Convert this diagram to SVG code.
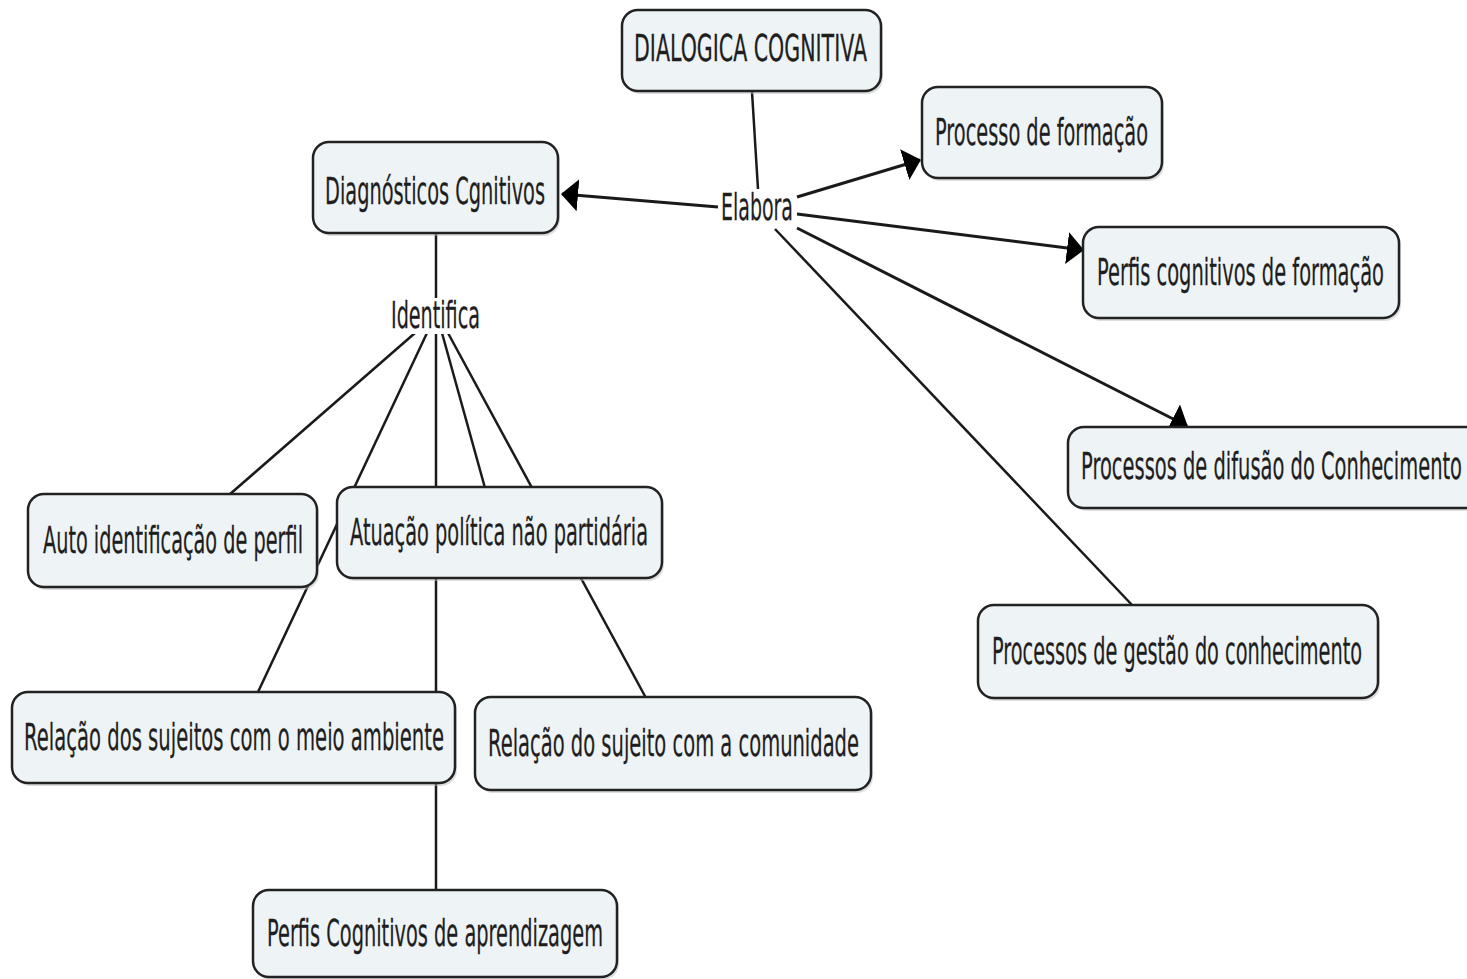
<svg xmlns="http://www.w3.org/2000/svg" width="1467" height="979" viewBox="0 0 1467 979">
  <style>
    .box { fill: #eef3f6; stroke: #222; stroke-width: 2.5; }
    .shadow { fill: #b8bcc0; opacity: 0.5; }
    .lbl { font-family: "DejaVu Sans", "Noto Sans", sans-serif; font-size: 38px; fill: #1e1e1e; stroke: #1e1e1e; stroke-width: 0.3; }
    .link { stroke: #1a1a1a; stroke-width: 2.5; fill: none; }
    .linkhead { stroke: #1a1a1a; stroke-width: 3; fill: none; marker-end: url(#arrow); }
  </style>
  <defs>
    <marker id="arrow" markerUnits="userSpaceOnUse" viewBox="0 0 17 32" refX="16" refY="16" markerWidth="17" markerHeight="32" orient="auto">
      <path d="M0,0 L17,16 L0,32 Z" fill="#000"/>
    </marker>
  </defs>
  <rect width="1467" height="979" fill="#fff"/>

  <!-- connectors -->
  <g id="connectors">
    <line class="link" x1="752" y1="92" x2="758" y2="189"/>
    <line class="linkhead" x1="718" y1="207" x2="562" y2="194"/>
    <line class="linkhead" x1="797" y1="197" x2="920" y2="160"/>
    <line class="linkhead" x1="797" y1="214" x2="1083" y2="250"/>
    <line class="linkhead" x1="797" y1="228" x2="1187" y2="426"/>
    <line class="link" x1="775" y1="229" x2="1133" y2="606"/>
    <line class="link" x1="436" y1="233" x2="436" y2="298"/>
    <line class="link" x1="415" y1="333" x2="229" y2="495"/>
    <line class="link" x1="427" y1="333" x2="258" y2="692"/>
    <line class="link" x1="436" y1="333" x2="436" y2="891"/>
    <line class="link" x1="442" y1="333" x2="485" y2="488"/>
    <line class="link" x1="448" y1="333" x2="646" y2="698"/>
  </g>

  <!-- linking phrases -->
  <g id="label-elabora">
    <rect x="719" y="190" width="76" height="38" fill="#fff"/>
    <text class="lbl" transform="translate(721,220) scale(0.5,1)" textLength="144" lengthAdjust="spacingAndGlyphs">Elabora</text>
  </g>
  <g id="label-identifica">
    <rect x="389" y="298" width="94" height="36" fill="#fff"/>
    <text class="lbl" transform="translate(391,328) scale(0.5,1)" textLength="178" lengthAdjust="spacingAndGlyphs">Identifica</text>
  </g>

  <!-- concepts -->
  <g id="node-dialogica">
    <rect class="shadow" x="624" y="13" width="259" height="81" rx="16"/>
    <rect class="box" x="622" y="10" width="259" height="81" rx="16"/>
    <text class="lbl" transform="translate(634,61) scale(0.5,1)" textLength="466" lengthAdjust="spacingAndGlyphs">DIALOGICA COGNITIVA</text>
  </g>
  <g id="node-processo-formacao">
    <rect class="shadow" x="924" y="90" width="240" height="91" rx="16"/>
    <rect class="box" x="922" y="87" width="240" height="91" rx="16"/>
    <text class="lbl" transform="translate(935,145) scale(0.5,1)" textLength="426" lengthAdjust="spacingAndGlyphs">Processo de formação</text>
  </g>
  <g id="node-diagnosticos">
    <rect class="shadow" x="315" y="145" width="245" height="91" rx="16"/>
    <rect class="box" x="313" y="142" width="245" height="91" rx="16"/>
    <text class="lbl" transform="translate(325,204) scale(0.5,1)" textLength="440" lengthAdjust="spacingAndGlyphs">Diagnósticos Cgnitivos</text>
  </g>
  <g id="node-perfis-formacao">
    <rect class="shadow" x="1085" y="230" width="316" height="91" rx="16"/>
    <rect class="box" x="1083" y="227" width="316" height="91" rx="16"/>
    <text class="lbl" transform="translate(1097,285) scale(0.5,1)" textLength="574" lengthAdjust="spacingAndGlyphs">Perfis cognitivos de formação</text>
  </g>
  <g id="node-difusao">
    <rect class="shadow" x="1070" y="430" width="420" height="81" rx="16"/>
    <rect class="box" x="1068" y="427" width="420" height="81" rx="16"/>
    <text class="lbl" transform="translate(1081,479) scale(0.5,1)" textLength="762" lengthAdjust="spacingAndGlyphs">Processos de difusão do Conhecimento</text>
  </g>
  <g id="node-gestao">
    <rect class="shadow" x="980" y="608" width="400" height="93" rx="16"/>
    <rect class="box" x="978" y="605" width="400" height="93" rx="16"/>
    <text class="lbl" transform="translate(992,664) scale(0.5,1)" textLength="740" lengthAdjust="spacingAndGlyphs">Processos de gestão do conhecimento</text>
  </g>
  <g id="node-auto-identificacao">
    <rect class="shadow" x="30" y="497" width="289" height="93" rx="16"/>
    <rect class="box" x="28" y="494" width="289" height="93" rx="16"/>
    <text class="lbl" transform="translate(43,553) scale(0.5,1)" textLength="520" lengthAdjust="spacingAndGlyphs">Auto identificação de perfil</text>
  </g>
  <g id="node-atuacao">
    <rect class="shadow" x="339" y="490" width="325" height="91" rx="16"/>
    <rect class="box" x="337" y="487" width="325" height="91" rx="16"/>
    <text class="lbl" transform="translate(350,545) scale(0.5,1)" textLength="596" lengthAdjust="spacingAndGlyphs">Atuação política não partidária</text>
  </g>
  <g id="node-meio-ambiente">
    <rect class="shadow" x="14" y="695" width="443" height="91" rx="16"/>
    <rect class="box" x="12" y="692" width="443" height="91" rx="16"/>
    <text class="lbl" transform="translate(24,750) scale(0.5,1)" textLength="840" lengthAdjust="spacingAndGlyphs">Relação dos sujeitos com o meio ambiente</text>
  </g>
  <g id="node-comunidade">
    <rect class="shadow" x="477" y="700" width="396" height="93" rx="16"/>
    <rect class="box" x="475" y="697" width="396" height="93" rx="16"/>
    <text class="lbl" transform="translate(488,756) scale(0.5,1)" textLength="742" lengthAdjust="spacingAndGlyphs">Relação do sujeito com a comunidade</text>
  </g>
  <g id="node-aprendizagem">
    <rect class="shadow" x="255" y="893" width="364" height="87" rx="16"/>
    <rect class="box" x="253" y="890" width="364" height="87" rx="16"/>
    <text class="lbl" transform="translate(267,946) scale(0.5,1)" textLength="672" lengthAdjust="spacingAndGlyphs">Perfis Cognitivos de aprendizagem</text>
  </g>
</svg>
